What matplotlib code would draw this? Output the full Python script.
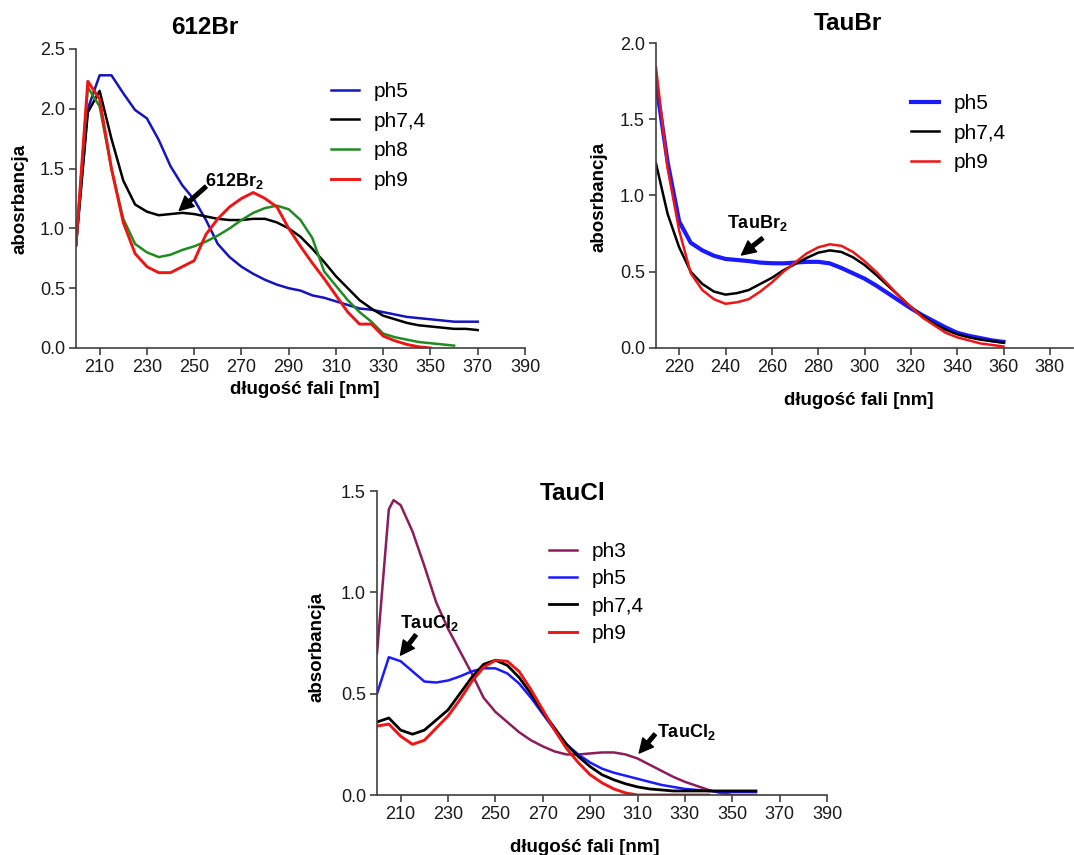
import numpy as np
import matplotlib
matplotlib.use('Agg')
import matplotlib.pyplot as plt

plt.rcParams['font.family'] = ['Liberation Sans', 'DejaVu Sans']
plt.rcParams['mathtext.fontset'] = 'custom'
plt.rcParams['mathtext.rm'] = 'Liberation Sans'
plt.rcParams['mathtext.bf'] = 'Liberation Sans:bold'
plt.rcParams['axes.edgecolor'] = '#404040'
plt.rcParams['xtick.color'] = '#404040'
plt.rcParams['ytick.color'] = '#404040'
plt.rcParams['xtick.labelcolor'] = '#1a1a1a'
plt.rcParams['ytick.labelcolor'] = '#1a1a1a'

# %% data: 612Br
br612_x = list(range(200, 375, 5))
br612_ph5 = [0.86, 2.00, 2.28, 2.28, 2.13, 1.99, 1.92, 1.74, 1.52, 1.36, 1.24,
             1.07, 0.87, 0.76, 0.68, 0.62, 0.57, 0.53, 0.50, 0.48, 0.44, 0.42,
             0.39, 0.36, 0.33, 0.32, 0.30, 0.28, 0.26, 0.25, 0.24, 0.23, 0.22,
             0.22, 0.22]
br612_ph74 = [0.86, 1.97, 2.15, 1.75, 1.40, 1.20, 1.14, 1.11, 1.12, 1.13, 1.12,
              1.10, 1.08, 1.07, 1.07, 1.08, 1.08, 1.05, 1.00, 0.93, 0.83, 0.72,
              0.60, 0.50, 0.40, 0.33, 0.27, 0.24, 0.21, 0.19, 0.18, 0.17, 0.16,
              0.16, 0.15]
br612_ph8 = [0.86, 2.18, 2.02, 1.50, 1.08, 0.87, 0.80, 0.76, 0.78, 0.82, 0.85,
             0.89, 0.94, 1.00, 1.07, 1.13, 1.17, 1.19, 1.16, 1.07, 0.92, 0.64,
             0.52, 0.40, 0.30, 0.22, 0.12, 0.09, 0.07, 0.05, 0.04, 0.03, 0.02]
br612_ph9 = [0.86, 2.23, 2.08, 1.50, 1.05, 0.79, 0.68, 0.63, 0.63, 0.68, 0.73,
             0.95, 1.08, 1.18, 1.25, 1.30, 1.25, 1.18, 1.00, 0.85, 0.71, 0.58,
             0.44, 0.30, 0.20, 0.20, 0.10, 0.06, 0.03, 0.01, 0.00]

# %% data: TauBr
taubr_x = list(range(210, 365, 5))
taubr_ph5 = [1.74, 1.22, 0.83, 0.69, 0.64, 0.605, 0.584, 0.577, 0.57, 0.56,
             0.556, 0.555, 0.56, 0.565, 0.565, 0.555, 0.525, 0.49, 0.455, 0.41,
             0.36, 0.31, 0.26, 0.215, 0.175, 0.135, 0.10, 0.08, 0.065, 0.05,
             0.04]
taubr_ph74 = [1.21, 0.88, 0.66, 0.50, 0.42, 0.37, 0.35, 0.36, 0.38, 0.42, 0.46,
              0.51, 0.55, 0.59, 0.625, 0.64, 0.63, 0.595, 0.545, 0.48, 0.41,
              0.34, 0.27, 0.21, 0.16, 0.12, 0.09, 0.07, 0.055, 0.045, 0.035]
taubr_ph9 = [1.84, 1.18, 0.77, 0.49, 0.38, 0.32, 0.29, 0.30, 0.32, 0.37, 0.43,
             0.50, 0.56, 0.62, 0.66, 0.68, 0.67, 0.63, 0.57, 0.50, 0.42, 0.34,
             0.27, 0.20, 0.15, 0.10, 0.07, 0.05, 0.03, 0.02, 0.01]

# %% data: TauCl
taucl_x3 = [200, 205, 207, 210, 215, 220, 225, 230, 235, 240, 245, 250, 255,
            260, 265, 270, 275, 280, 285, 290, 295, 300, 305, 310, 315, 320,
            325, 330, 335, 340, 345, 350, 355, 360]
taucl_ph3 = [0.70, 1.41, 1.455, 1.43, 1.30, 1.13, 0.95, 0.82, 0.71, 0.60, 0.48,
             0.41, 0.36, 0.31, 0.27, 0.24, 0.215, 0.20, 0.20, 0.205, 0.21,
             0.21, 0.20, 0.18, 0.15, 0.12, 0.09, 0.065, 0.045, 0.025, 0.01,
             0.0, 0.0, 0.0]
taucl_x = list(range(200, 365, 5))
taucl_ph5 = [0.50, 0.68, 0.66, 0.61, 0.56, 0.555, 0.565, 0.585, 0.61, 0.625,
             0.625, 0.60, 0.55, 0.48, 0.40, 0.32, 0.25, 0.20, 0.16, 0.13, 0.11,
             0.095, 0.08, 0.065, 0.05, 0.04, 0.03, 0.025, 0.02, 0.015, 0.015,
             0.015, 0.015]
taucl_ph74 = [0.36, 0.38, 0.32, 0.30, 0.32, 0.37, 0.42, 0.50, 0.58, 0.645,
              0.665, 0.64, 0.58, 0.50, 0.41, 0.33, 0.25, 0.19, 0.14, 0.10,
              0.075, 0.055, 0.04, 0.03, 0.025, 0.02, 0.02, 0.02, 0.02, 0.02,
              0.02, 0.02, 0.02]
taucl_x9 = list(range(200, 345, 5))
taucl_ph9 = [0.34, 0.35, 0.29, 0.25, 0.27, 0.33, 0.39, 0.47, 0.56, 0.63, 0.665,
             0.66, 0.61, 0.52, 0.42, 0.32, 0.23, 0.16, 0.10, 0.06, 0.03, 0.01,
             0.0, 0.0, 0.0, 0.0, 0.0, 0.0, 0.0]

# %% colors / sizes
c_blue = '#1414c0'
c_blue2 = '#1a1aff'
c_black = '#000000'
c_green = '#1e8c1e'
c_red = '#f01414'
c_purple = '#8c1c5c'

xlab = 'długość fali [nm]'
lab_fs = 13.5
tick_fs = 13
leg_fs = 15
ttl_fs = 17.5
ann_fs = 13


def style_ax(ax):
    for s in ['top', 'right']:
        ax.spines[s].set_visible(False)
    ax.spines['left'].set_linewidth(1.2)
    ax.spines['bottom'].set_linewidth(1.2)
    ax.tick_params(direction='out', length=5, width=1.2, labelsize=tick_fs,
                   pad=3)
    ax.yaxis.set_major_formatter(matplotlib.ticker.FormatStrFormatter('%.1f'))


def arrow(ax, txt, tip, tail, txt_xy):
    ax.annotate('', xy=tip, xytext=tail,
                arrowprops=dict(facecolor='black', edgecolor='black',
                                width=2.6, headwidth=10, headlength=10,
                                shrink=0))
    ax.text(txt_xy[0], txt_xy[1], txt, fontsize=ann_fs, fontweight='bold',
            va='center', ha='left')


def legend(ax, x, y, spacing):
    ax.legend(loc='upper left', bbox_to_anchor=(x / 1074, 1 - y / 855),
              bbox_transform=fig.transFigure, frameon=False, fontsize=leg_fs,
              handlelength=1.35, handletextpad=0.72, labelspacing=spacing,
              borderpad=0, borderaxespad=0)


fig = plt.figure(figsize=(10.74, 8.55), dpi=100)

# %% 612Br
ax1 = fig.add_axes([76 / 1074, 1 - 348 / 855, 449 / 1074, 299 / 855])
ax1.plot(br612_x, br612_ph5, color=c_blue, lw=1.8, label='ph5')
ax1.plot(br612_x, br612_ph74, color=c_black, lw=1.8, label='ph7,4')
ax1.plot(br612_x[:len(br612_ph8)], br612_ph8, color=c_green, lw=1.8,
         label='ph8')
ax1.plot(br612_x[:len(br612_ph9)], br612_ph9, color=c_red, lw=2.1,
         label='ph9')
ax1.set_xlim(200, 390)
ax1.set_ylim(0, 2.5)
ax1.set_xticks(range(210, 400, 20))
ax1.set_yticks(np.arange(0, 2.6, 0.5))
style_ax(ax1)
ax1.set_xlabel(xlab, fontsize=lab_fs, fontweight='bold')
ax1.set_ylabel('abosrbancja', fontsize=lab_fs, fontweight='bold')
ax1.yaxis.set_label_coords(-0.105, 0.5)
ax1.xaxis.set_label_coords(0.51, -0.112)
legend(ax1, 331, 82, 0.51)
arrow(ax1, r'612Br$_\mathbf{2}$', (243.7, 1.15), (255.0, 1.35), (254.5, 1.40))
fig.text(205 / 1074, 1 - 27 / 855, '612Br', fontsize=ttl_fs,
         fontweight='bold', ha='center', va='center')

# %% TauBr
ax2 = fig.add_axes([656 / 1074, 1 - 348 / 855, 417 / 1074, 305 / 855])
ax2.plot(taubr_x, taubr_ph5, color=c_blue2, lw=3.0, label='ph5')
ax2.plot(taubr_x, taubr_ph74, color=c_black, lw=1.8, label='ph7,4')
ax2.plot(taubr_x, taubr_ph9, color=c_red, lw=1.8, label='ph9')
ax2.set_xlim(210, 390)
ax2.set_ylim(0, 2.0)
ax2.set_xticks(range(220, 400, 20))
ax2.set_yticks(np.arange(0, 2.1, 0.5))
style_ax(ax2)
ax2.set_xlabel(xlab, fontsize=lab_fs, fontweight='bold')
ax2.set_ylabel('abosrbancja', fontsize=lab_fs, fontweight='bold')
ax2.yaxis.set_label_coords(-0.117, 0.495)
ax2.xaxis.set_label_coords(0.487, -0.145)
legend(ax2, 911, 94, 0.51)
arrow(ax2, r'TauBr$_\mathbf{2}$', (246.9, 0.61), (256.0, 0.72), (240.5, 0.82))
fig.text(848 / 1074, 1 - 24 / 855, 'TauBr', fontsize=ttl_fs,
         fontweight='bold', ha='center', va='center')

# %% TauCl
ax3 = fig.add_axes([377 / 1074, 1 - 795 / 855, 450 / 1074, 304 / 855])
ax3.plot(taucl_x3, taucl_ph3, color=c_purple, lw=1.8, label='ph3')
ax3.plot(taucl_x, taucl_ph5, color=c_blue2, lw=1.8, label='ph5')
ax3.plot(taucl_x, taucl_ph74, color=c_black, lw=2.0, label='ph7,4')
ax3.plot(taucl_x9, taucl_ph9, color=c_red, lw=2.1, label='ph9')
ax3.set_xlim(200, 390)
ax3.set_ylim(0, 1.5)
ax3.set_xticks(range(210, 400, 20))
ax3.set_yticks(np.arange(0, 1.6, 0.5))
style_ax(ax3)
ax3.set_xlabel(xlab, fontsize=lab_fs, fontweight='bold')
ax3.set_ylabel('absorbancja', fontsize=lab_fs, fontweight='bold')
ax3.yaxis.set_label_coords(-0.114, 0.487)
ax3.xaxis.set_label_coords(0.462, -0.145)
legend(ax3, 549, 542, 0.40)
arrow(ax3, r'TauCl$_\mathbf{2}$', (209.9, 0.69), (216.4, 0.79), (209.9, 0.85))
arrow(ax3, r'TauCl$_\mathbf{2}$', (310.7, 0.207), (317.4, 0.30),
      (318.3, 0.31))
fig.text(573 / 1074, 1 - 493 / 855, 'TauCl', fontsize=ttl_fs,
         fontweight='bold', ha='center', va='center')

fig.savefig('out.png', dpi=100)
